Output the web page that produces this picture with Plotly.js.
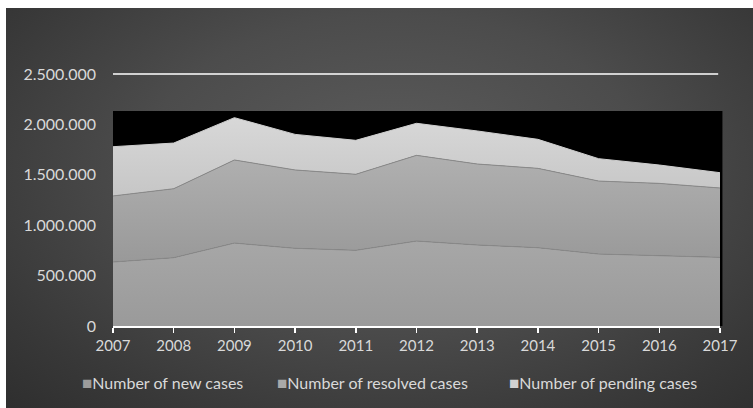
<!DOCTYPE html>
<html>
<head>
<meta charset="utf-8">
<script src="https://cdn.plot.ly/plotly-3.0.1.min.js"></script>
<style>
  html, body { margin: 0; padding: 0; background: #ffffff; }
  #frame {
    position: absolute; left: 6px; top: 8px; width: 747px; height: 400px;
    background: radial-gradient(ellipse 75% 85% at 52% 40%, #5c5c5c 0%, #4c4c4c 45%, #383838 80%, #2e2e2e 100%);
  }
  #chart { position: absolute; left: 0; top: 0; width: 753px; height: 408px; }
</style>
</head>
<body>
<div id="frame"></div>
<div id="chart"></div>
<script>
// Court caseload by year
const years = [2007, 2008, 2009, 2010, 2011, 2012, 2013, 2014, 2015, 2016, 2017];
const newCases      = [635000, 678000, 823000, 771000, 751000, 843000, 804000, 777000, 714000, 701000, 681000];
const resolvedCases = [655000, 684000, 824000, 777000, 754000, 850000, 803000, 787000, 724000, 714000, 688000];
const pendingCases  = [489000, 453000, 420000, 353000, 337000, 318000, 328000, 288000, 222000, 182000, 152000];

const seriesNames = ['Number of new cases', 'Number of resolved cases', 'Number of pending cases'];
const yTicks = [0, 500000, 1000000, 1500000, 2000000, 2500000];

// upper edge of the black plot-area panel (value scale)
const panelTop = 2133000;

const fills = [
  { top: '#a7a7a7', bottom: '#9a9a9a', edge: '#8a8a8a', key: '#9c9c9c' },
  { top: '#b0b0b0', bottom: '#999999', edge: '#8a8a8a', key: '#a9a9a9' },
  { top: '#d8d8d8', bottom: '#c6c6c6', edge: '#cfcfcf', key: '#d2d2d2' }
];

const seriesValues = [newCases, resolvedCases, pendingCases];

// cumulative bounds used for each layer's vertical gradient
const cum = [];
let running = years.map(() => 0);
seriesValues.forEach((vals) => {
  const lo = running.slice();
  running = running.map((v, i) => v + vals[i]);
  cum.push({ lo: Math.min(...lo), hi: Math.max(...running) });
});

const legendIds = ['legend', 'legend2', 'legend3'];

const traces = [];
seriesValues.forEach((vals, k) => {
  traces.push({
    type: 'scatter',
    x: years,
    y: vals,
    name: seriesNames[k],
    stackgroup: 'cases',
    mode: 'lines',
    line: { color: fills[k].edge, width: 1 },
    fillcolor: fills[k].top,
    fillgradient: {
      type: 'vertical',
      start: cum[k].lo,
      stop: cum[k].hi,
      colorscale: [[0, fills[k].bottom], [1, fills[k].top]]
    },
    showlegend: false,
    hoverinfo: 'skip'
  });
});

// legend entries: a small coloured square glyph sits right before each name
seriesNames.forEach((name, k) => {
  traces.push({
    type: 'scatter',
    x: [null],
    y: [null],
    name: '<span style="color:' + fills[k].key + ';font-size:17px">■</span>' + name,
    legend: legendIds[k],
    mode: 'markers',
    marker: { symbol: 'square', size: 9, color: 'rgba(0,0,0,0)' },
    showlegend: true,
    hoverinfo: 'skip'
  });
});

const textColor = '#d9d9d9';
const fontFamily = 'Lato, "Open Sans", sans-serif';

function legendBox(xPx) {
  return {
    orientation: 'h',
    xref: 'container', yref: 'container',
    x: xPx / 753, xanchor: 'left',
    y: 1 - 383 / 408, yanchor: 'middle',
    font: { family: fontFamily, size: 16, color: textColor },
    bgcolor: 'rgba(0,0,0,0)',
    itemclick: false, itemdoubleclick: false
  };
}

const layout = {
  width: 753,
  height: 408,
  paper_bgcolor: 'rgba(0,0,0,0)',
  plot_bgcolor: 'rgba(0,0,0,0)',
  separators: ',.',
  margin: { l: 113, r: 33, t: 72, b: 82, pad: 0 },
  font: { family: fontFamily, size: 15, color: textColor },
  showlegend: true,
  legend: legendBox(42),
  legend2: legendBox(237),
  legend3: legendBox(469),
  xaxis: {
    type: 'linear',
    range: [years[0], years[years.length - 1]],
    tickvals: years,
    ticktext: years.map(String),
    showgrid: false,
    zeroline: false,
    showline: true,
    linecolor: '#ffffff',
    linewidth: 2,
    ticks: 'outside',
    ticklen: 5,
    tickwidth: 1.5,
    tickcolor: '#ffffff',
    tickfont: { family: fontFamily, size: 15, color: textColor },
    fixedrange: true
  },
  yaxis: {
    range: [0, 2520000],
    tickvals: yTicks,
    tickformat: ',d',
    showgrid: false,
    zeroline: false,
    showline: false,
    ticks: '',
    ticklabelstandoff: 16,
    tickfont: { family: fontFamily, size: 16, color: textColor },
    fixedrange: true
  },
  shapes: [
    // black plot-area panel behind the stacked areas
    {
      type: 'rect', layer: 'below',
      xref: 'paper', yref: 'y',
      x0: 0, x1: 1.004, y0: 0, y1: panelTop,
      fillcolor: '#000000', line: { width: 0 }
    },
    // major gridline at the top tick
    {
      type: 'line', layer: 'below',
      xref: 'paper', yref: 'y',
      x0: 0, x1: 0.997,
      y0: yTicks[yTicks.length - 1], y1: yTicks[yTicks.length - 1],
      line: { color: '#ffffff', width: 1.5 }
    }
  ]
};

Plotly.newPlot('chart', traces, layout, { displayModeBar: false, staticPlot: true });
</script>
</body>
</html>
